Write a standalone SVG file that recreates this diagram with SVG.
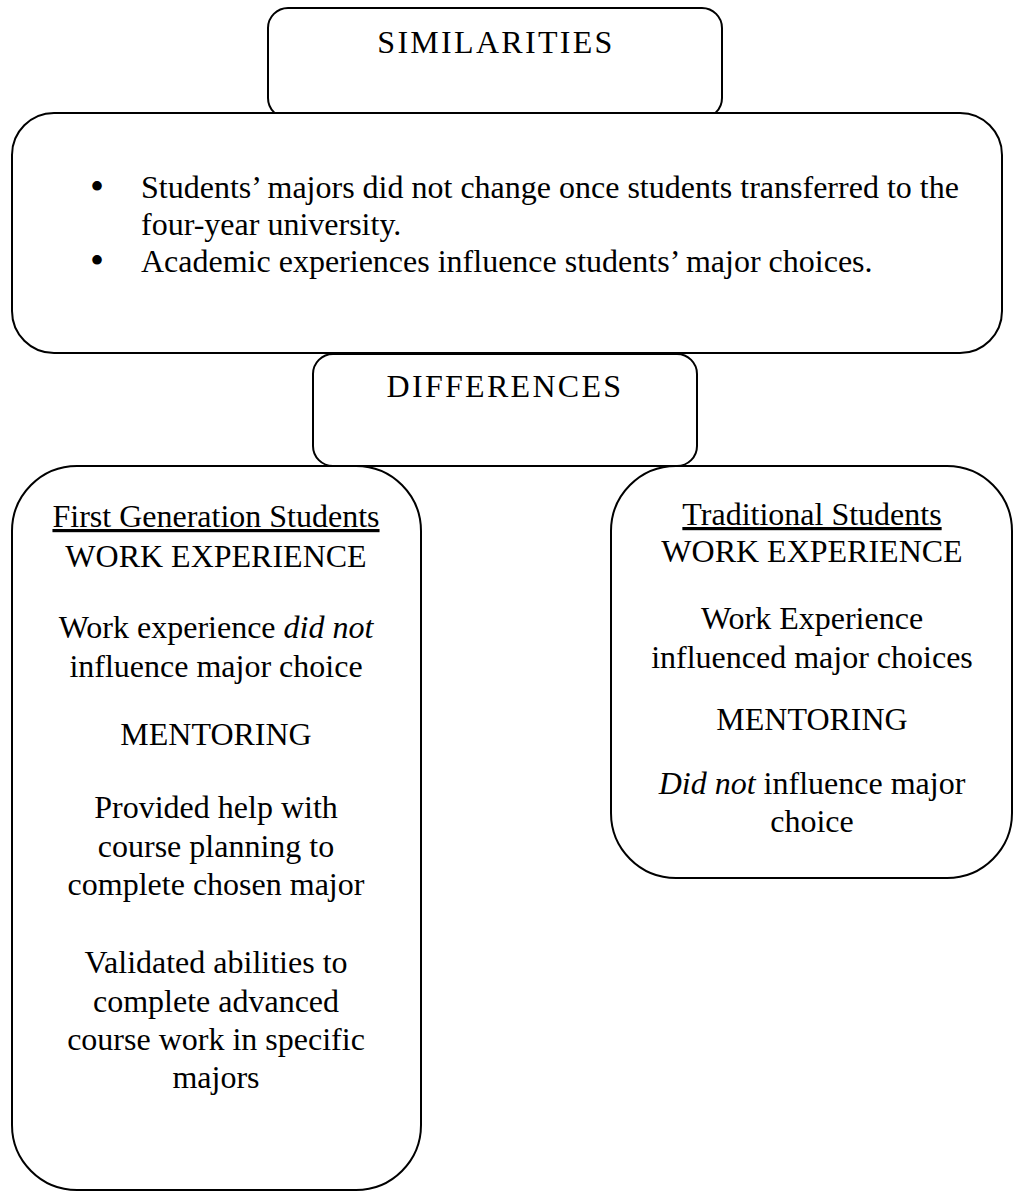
<svg xmlns="http://www.w3.org/2000/svg" width="1017" height="1194" viewBox="0 0 1017 1194">
<style>
.box{fill:#fff;stroke:#000;stroke-width:2}
.t{font-family:"Liberation Serif","Times New Roman",serif;font-size:32px;fill:#000}
.c{text-anchor:middle}
.h{letter-spacing:2.3px}
.bu{font-size:40px;text-anchor:middle}
</style>
<rect width="1017" height="1194" fill="#fff"/>
<g id="similarities-header">
<rect class="box" x="268" y="8" width="454" height="110" rx="20"/>
<text class="t h c" x="496" y="53">SIMILARITIES</text>
</g>
<g id="differences-header">
<rect class="box" x="313" y="354" width="384" height="112" rx="20"/>
<text class="t h c" x="505" y="397">DIFFERENCES</text>
</g>
<g id="similarities">
<rect class="box" x="12" y="113" width="990" height="240" rx="42"/>
<text class="t bu" x="97" y="200">•</text>
<text class="t" x="141" y="198">Students’ majors did not change once students transferred to the</text>
<text class="t" x="141" y="235">four-year university.</text>
<text class="t bu" x="97" y="274">•</text>
<text class="t" x="141" y="272">Academic experiences influence students’ major choices.</text>
</g>
<g id="first-generation">
<rect class="box" x="12" y="466" width="409" height="724" rx="65"/>
<text class="t c" x="216" y="527" text-decoration="underline">First Generation Students</text>
<text class="t c" x="216" y="567">WORK EXPERIENCE</text>
<text class="t c" x="216" y="638">Work experience <tspan font-style="italic">did not</tspan></text>
<text class="t c" x="216" y="677">influence major choice</text>
<text class="t c" x="216" y="745">MENTORING</text>
<text class="t c" x="216" y="818">Provided help with</text>
<text class="t c" x="216" y="857">course planning to</text>
<text class="t c" x="216" y="895">complete chosen major</text>
<text class="t c" x="216" y="973">Validated abilities to</text>
<text class="t c" x="216" y="1012">complete advanced</text>
<text class="t c" x="216" y="1050">course work in specific</text>
<text class="t c" x="216" y="1088">majors</text>
</g>
<g id="traditional">
<rect class="box" x="611" y="466" width="401" height="412" rx="65"/>
<text class="t c" x="812" y="525" text-decoration="underline">Traditional Students</text>
<text class="t c" x="812" y="562">WORK EXPERIENCE</text>
<text class="t c" x="812" y="629">Work Experience</text>
<text class="t c" x="812" y="668">influenced major choices</text>
<text class="t c" x="812" y="730">MENTORING</text>
<text class="t c" x="812" y="794"><tspan font-style="italic">Did not</tspan> influence major</text>
<text class="t c" x="812" y="832">choice</text>
</g>
<g id="connectors"/>
</svg>
